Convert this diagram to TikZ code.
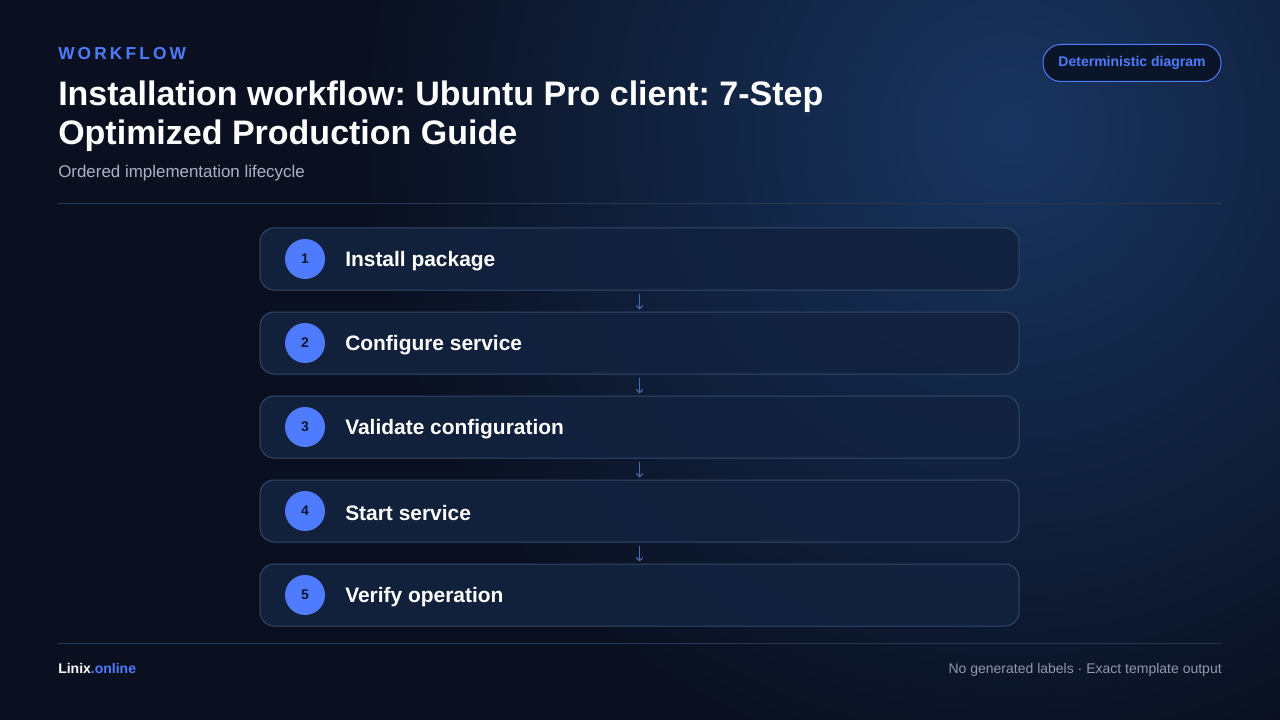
\documentclass[tikz,border=0pt]{standalone}
\usepackage{fontspec}
\setmainfont{Liberation Sans}
\usetikzlibrary{arrows.meta}
\frenchspacing
\definecolor{bgbase}{HTML}{0A1020}
\definecolor{bgglow}{HTML}{183561}
\definecolor{accent}{HTML}{4F7CFF}
\definecolor{boxfill}{HTML}{12223E}
\definecolor{boxline}{HTML}{34496B}
\definecolor{subgrey}{HTML}{A9B4C6}
\definecolor{footgrey}{HTML}{8E9AAE}
\definecolor{rulegrey}{HTML}{2A3750}
\definecolor{numdark}{HTML}{0B1530}
\definecolor{arrowc}{HTML}{4A6CB8}
\definecolor{badgefill}{HTML}{0A1529}
\tikzset{
  stepbox/.style={draw=boxline, line width=0.75pt, fill=boxfill, fill opacity=0.9, text opacity=1, rounded corners=10.5pt, minimum width=569.25pt, minimum height=46.5pt, inner sep=0pt},
  stepnum/.style={circle, fill=accent, minimum size=30pt, inner sep=0pt, text=numdark, font=\bfseries\fontsize{10.5pt}{12pt}\selectfont},
  steplabel/.style={anchor=west, text=white, inner sep=0pt, font=\bfseries\fontsize{15.7pt}{18pt}\selectfont},
  titleline/.style={anchor=base west, inner sep=0pt, text=white, font=\bfseries\fontsize{25.5pt}{30pt}\selectfont},
  flowarrow/.style={draw=arrowc, line width=0.8pt, -{Straight Barb[length=2.5pt,width=5pt]}},
}
\begin{document}
\begin{tikzpicture}[x=0.75pt,y=-0.75pt]
\useasboundingbox (0,0) rectangle (1280,720);
\fill[bgbase] (0,0) rectangle (1280,720);
\begin{scope}
\clip (0,0) rectangle (1280,720);
\shade[inner color=bgglow, outer color=bgbase] (1010,130) circle (650);
\end{scope}
% header
\node[anchor=base west, inner sep=0pt, text=accent, font=\bfseries\fontsize{13pt}{15pt}\selectfont\addfontfeatures{LetterSpace=18}] (kicker) at (58,60) {WORKFLOW};
\node[titleline] (title1) at (58,105.5) {Installation workflow: Ubuntu Pro client: 7-Step};
\node[titleline] (title2) at (58,144.5) {Optimized Production Guide};
\node[anchor=base west, inner sep=0pt, text=subgrey, font=\fontsize{12.7pt}{14pt}\selectfont] (subtitle) at (58,178) {Ordered implementation lifecycle};
\node[draw=accent, line width=0.75pt, fill=badgefill, rounded corners=13.5pt, minimum width=133.5pt, minimum height=27.75pt, inner sep=0pt, text=accent, font=\bfseries\fontsize{10.5pt}{12pt}\selectfont] (badge) at (1132,63) {Deterministic diagram};
\coordinate (rulel) at (58,204);
\coordinate (ruler) at (1222,204);
\draw[rulegrey, line width=0.75pt] (rulel) -- (ruler);
% steps
\foreach \i/\t in {1/Install package,2/Configure service,3/Validate configuration,4/Start service,5/Verify operation}{
  \pgfmathsetmacro{\yy}{259+(\i-1)*84}
  \node[stepbox] (box\i) at (639.5,\yy) {};
  \node[stepnum] (num\i) at (305,\yy) {\i};
  \node[steplabel] (lab\i) at (345,\yy+2.5) {\t};
}
\foreach \i in {1,...,4}{
  \pgfmathtruncatemacro{\j}{\i+1}
  \draw[flowarrow] ([yshift=-2.25pt]box\i.south) -- ([yshift=1.5pt]box\j.north);
}
% footer
\coordinate (footl) at (58,643);
\coordinate (footr) at (1222,643);
\draw[rulegrey, line width=0.75pt] (footl) -- (footr);
\node[anchor=base west, inner sep=0pt, font=\bfseries\fontsize{10.5pt}{12pt}\selectfont] (brand) at (58,673) {\textcolor{white}{Linix}\textcolor{accent}{.online}};
\node[anchor=base east, inner sep=0pt, text=footgrey, font=\fontsize{10.5pt}{12pt}\selectfont] (footnote) at (1222,673) {No generated labels · Exact template output};
\end{tikzpicture}
\end{document}
